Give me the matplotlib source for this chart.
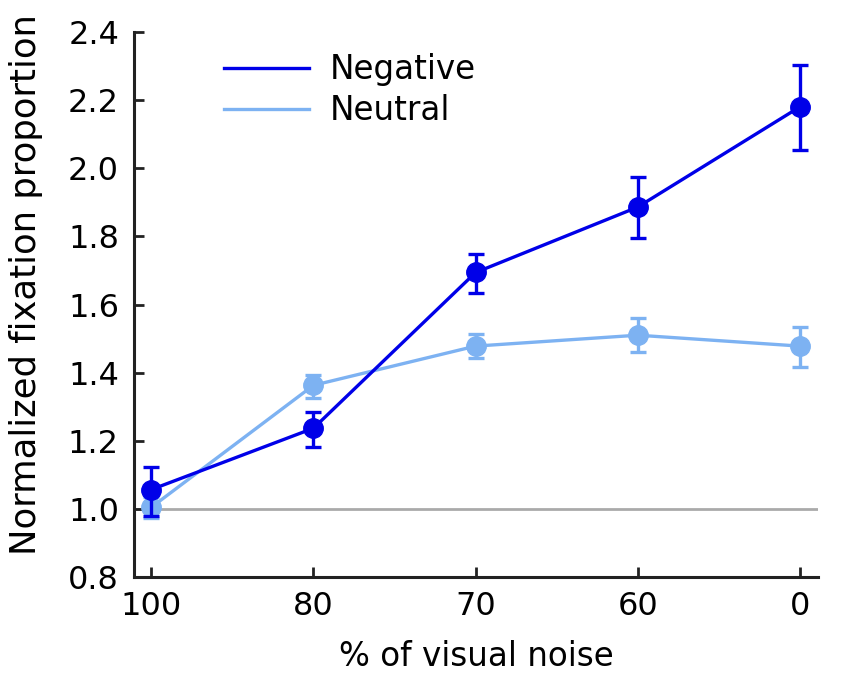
import matplotlib
matplotlib.use("Agg")
import matplotlib.pyplot as plt
import numpy as np
from matplotlib.lines import Line2D

categories = ["100", "80", "70", "60", "0"]
negative = [1.057, 1.237, 1.694, 1.886, 2.180]
negative_lo = [0.978, 1.181, 1.634, 1.795, 2.054]
negative_hi = [1.123, 1.284, 1.748, 1.974, 2.303]
neutral = [1.005, 1.363, 1.478, 1.510, 1.478]
neutral_lo = [0.975, 1.326, 1.443, 1.461, 1.417]
neutral_hi = [1.035, 1.394, 1.514, 1.560, 1.534]

c_neg = "#0000e8"
c_neu = "#7db2f2"

fig = plt.figure(figsize=(8.5, 6.79), dpi=100)
ax = fig.add_axes([0.158, 0.150, 0.804, 0.803])
x = np.arange(len(categories))

ax.axhline(1.0, color="#aaaaaa", lw=2, zorder=1)

def draw(vals, lo, hi, color, label, z):
    vals = np.array(vals); lo = np.array(lo); hi = np.array(hi)
    ax.errorbar(x, vals, yerr=[vals - lo, hi - vals], color=color, lw=2.4,
                marker="o", ms=14, capsize=6, capthick=2.4, elinewidth=2.4,
                label=label, zorder=z)

draw(neutral, neutral_lo, neutral_hi, c_neu, "Neutral", 2)
draw(negative, negative_lo, negative_hi, c_neg, "Negative", 3)

ax.set_xlim(-0.105, 4.11)
ax.set_ylim(0.8, 2.4)
ax.set_xticks(x)
ax.set_xticklabels(categories)
ax.set_yticks(np.arange(0.8, 2.41, 0.2))
ax.set_yticklabels([f"{v:.1f}" for v in np.arange(0.8, 2.41, 0.2)])
ax.tick_params(direction="in", labelsize=23, width=2, length=7, color="#222222")
ax.tick_params(axis="x", pad=10)
ax.tick_params(axis="y", pad=11)
for s in ["top", "right"]:
    ax.spines[s].set_visible(False)
for s in ["left", "bottom"]:
    ax.spines[s].set_linewidth(2.2)
    ax.spines[s].set_color("#222222")

ax.set_xlabel("% of visual noise", fontsize=23.5, labelpad=13)
ax.set_ylabel("Normalized fixation proportion", fontsize=25.5)
ax.yaxis.set_label_coords(-0.134, 0.537)

handles = [Line2D([], [], color=c_neg, lw=2.4), Line2D([], [], color=c_neu, lw=2.4)]
ax.legend(handles, ["Negative", "Neutral"], loc="upper left", bbox_to_anchor=(0.088, 1.015),
          frameon=False, fontsize=23.5, handlelength=2.6, handletextpad=0.65, labelspacing=0.25)

fig.savefig("out.png", dpi=100)
